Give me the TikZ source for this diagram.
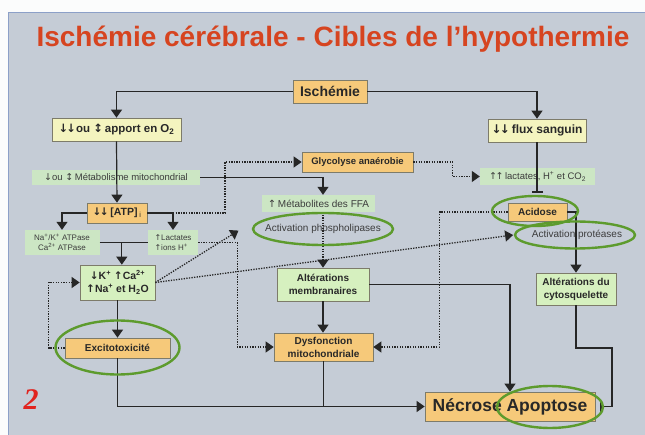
\documentclass[tikz,border=0pt]{standalone}
\usepackage{fontspec}
\setmainfont{Liberation Sans}
\newfontfamily\arw{DejaVu Sans}
\newfontfamily\serifnum{Liberation Serif}
\usetikzlibrary{arrows.meta,shapes.geometric,calc}

\definecolor{slidebg}{RGB}{197,204,214}
\definecolor{slideedge}{RGB}{140,160,200}
\definecolor{orangebox}{RGB}{246,201,122}
\definecolor{yellowbox}{RGB}{244,244,191}
\definecolor{greenbox}{RGB}{214,240,191}
\definecolor{palegreen}{RGB}{204,230,196}
\definecolor{boxline}{RGB}{125,123,106}
\definecolor{ringgreen}{RGB}{93,155,45}
\definecolor{linec}{RGB}{38,38,38}
\definecolor{txt}{RGB}{40,40,40}
\definecolor{txtpale}{RGB}{60,60,60}
\definecolor{titlered}{RGB}{214,68,32}
\definecolor{numred}{RGB}{225,35,30}

\newcommand{\myD}{{\arw ↓}}
\newcommand{\myU}{{\arw ↑}}
\newcommand{\myDD}{{\arw ↓\kern-.15em↓}}
\newcommand{\myUU}{{\arw ↑\kern-.15em↑}}
\newcommand{\myUD}{{\arw ↕}}

\begin{document}
\begin{tikzpicture}[x=1pt,y=-1pt,
  sbox/.style={draw=boxline, line width=0.7pt, inner sep=0pt, align=center, text=txt,
    font=\bfseries\fontsize{10}{13}\selectfont},
  obox/.style={sbox, fill=orangebox},
  ybox/.style={sbox, fill=yellowbox},
  gbox/.style={sbox, fill=greenbox},
  paletext/.style={fill=palegreen, inner sep=0pt, align=center, text=txtpale,
    font=\fontsize{9.5}{11}\selectfont},
  ringtext/.style={shape=ellipse, inner sep=0pt, text=txtpale, font=\fontsize{10}{12}\selectfont},
  greenring/.style={draw=ringgreen, line width=2.4pt},
  ln/.style={draw=linec, line width=1.2pt},
  dt/.style={draw=linec, line width=1.3pt, dash pattern=on 1.3pt off 1.3pt},
  harrow/.style={-{Triangle[width=11pt,length=8pt]}},
  tee/.style={-{Bar[width=11pt,line width=1.2pt]}}
]
\useasboundingbox (0,0) rectangle (645,435);
\fill[white!94!slidebg] (0,0) rectangle (645,435);
\fill[slidebg] (8,12) rectangle (645,435);
\draw[slideedge, line width=0.8pt] (8,435) -- (8,12) -- (645,12);

% title and number
\node[anchor=base, text=titlered, font=\bfseries\fontsize{28}{30}\selectfont] (title) at (333,47)
  {Ischémie cérébrale - Cibles de l’hypothermie};
\node[text=numred, font=\serifnum\bfseries\itshape\fontsize{30}{32}\selectfont] (num) at (31,400) {2};

% nodes
\node[obox, minimum width=74pt, minimum height=23pt, font=\bfseries\fontsize{14}{16}\selectfont] (isch) at (330,91.5) {Ischémie};
\node[ybox, minimum width=129pt, minimum height=23pt, font=\bfseries\fontsize{11.5}{13}\selectfont] (apport) at (116.5,129.5)
  {\myDD ou \myUD\,apport en O\textsubscript{2}};
\node[ybox, minimum width=98pt, minimum height=23pt, font=\bfseries\fontsize{12}{14}\selectfont] (flux) at (537,130.5)
  {\myDD\,flux sanguin};
\node[paletext, minimum width=168pt, minimum height=15pt] (metab) at (116,177.5)
  {\myD ou \myUD\,Métabolisme mitochondrial};
\node[obox, minimum width=60pt, minimum height=20pt, font=\bfseries\fontsize{10.5}{12}\selectfont] (atp) at (117,213)
  {\myDD\,[ATP]\,\textsubscript{\mdseries i}};
\node[paletext, minimum width=75pt, minimum height=25pt, font=\fontsize{8}{10}\selectfont] (nak) at (62,242.5)
  {Na\textsuperscript{+}/K\textsuperscript{+} ATPase\\Ca\textsuperscript{2+} ATPase};
\node[paletext, minimum width=50pt, minimum height=25pt, align=left, font=\fontsize{8}{10}\selectfont] (lact) at (173,242.5)
  {\myU Lactates\\\myU ions H\textsuperscript{+}};
\node[gbox, minimum width=75pt, minimum height=35pt, font=\bfseries\fontsize{10.5}{13}\selectfont] (kbox) at (117.5,282.5)
  {\myD K\textsuperscript{+} \myU Ca\textsuperscript{2+}\\\myU Na\textsuperscript{+} et H\textsubscript{2}O};
\node[obox, minimum width=105pt, minimum height=20pt] (excito) at (117.5,348) {Excitotoxicité};
\node[obox, minimum width=111pt, minimum height=20pt, font=\bfseries\fontsize{9.5}{11}\selectfont] (glyco) at (357.5,162)
  {Glycolyse anaérobie};
\node[paletext, minimum width=115pt, minimum height=17pt] (lacth) at (537.5,176.5)
  {\myUU\,lactates, H\textsuperscript{+} et CO\textsubscript{2}};
\node[paletext, minimum width=113pt, minimum height=17pt, font=\fontsize{10}{12}\selectfont] (ffa) at (318.5,203.5)
  {\myU\,Métabolites des FFA};
\node[ringtext, minimum width=140pt, minimum height=32pt] (phospho) at (323,229) {Activation phospholipases};
\node[ringtext, minimum width=120pt, minimum height=27pt] (prot) at (577,235) {Activation protéases};
\node[gbox, minimum width=92pt, minimum height=33pt] (alt) at (323,284.5) {Altérations\\membranaires};
\node[obox, minimum width=99pt, minimum height=28pt] (dysf) at (323.5,347) {Dysfonction\\mitochondriale};
\node[obox, minimum width=59pt, minimum height=18pt] (acid) at (537.5,212) {Acidose};
\node[gbox, minimum width=80pt, minimum height=32pt] (cyto) at (576,289) {Altérations du\\cytosquelette};
\node[obox, minimum width=170pt, minimum height=29pt, font=\bfseries\fontsize{17.5}{19}\selectfont] (necr) at (510,406.5)
  {Nécrose Apoptose};

% solid connectors
\draw[ln, harrow] (isch.west) -| (apport.north);
\draw[ln, harrow] (isch.east) -| (flux.north);
\draw[ln, harrow] (apport.south) -- (atp.north);
\draw[ln, harrow] (metab.east) -| (alt.north |- ffa.north);
\draw[ln, harrow] (atp.west) -| (nak.north);
\draw[ln, harrow] (atp.east) -| (lact.north);
\draw[ln] (nak.east) -- (lact.west);
\coordinate (jn) at ($(nak.east)!0.46!(lact.west)$);
\draw[ln, harrow] (jn) -- (jn |- kbox.north);
\draw[ln, harrow] (kbox.south) -- (excito.north);
\draw[ln, harrow] (excito.south) |- (necr.west);
\draw[ln] (dysf.south) -- (dysf.south |- necr.west);
\draw[ln, harrow] (alt.south) -- (alt.south |- dysf.north);
\draw[ln, harrow] (alt.east) -| (necr.north);
\draw[ln, tee, shorten >=10pt] (flux.south) -- (flux.south |- acid.north);
\draw[ln, harrow] (acid.east) -| (cyto.north);
\coordinate (cb) at (612,348);
\draw[ln, tee, shorten >=5pt] (cyto.south) |- (cb) |- (necr.east);

% dotted connectors
\draw[dt, harrow] (lact.north |- atp.east) -- ++(52,0) |- (glyco.west);
\draw[dt, harrow] (glyco.east) -- ++(39,0) |- (lacth.west);
\draw[dt, harrow] (lact.east) -- ++(39,0) |- (dysf.west);
\draw[dt, harrow, shorten >=3pt] (kbox.east) -- (phospho.west);
\draw[dt, harrow] (kbox.east) -- (prot.west);
\draw[dt, harrow] (alt.north |- ffa.south) -- (alt.north);
\draw[dt, harrow] (acid.west) -- ++(-68,0) |- (dysf.east);
\draw[dt, harrow] (excito.west) -- ++(-16,0) |- (kbox.west);

% green rings
\draw[greenring] (phospho.center) ellipse [x radius=70pt, y radius=16pt];
\draw[greenring] (prot.center) ++(-2,0) ellipse [x radius=60pt, y radius=13.5pt];
\draw[greenring] (acid.center) ++(-2.5,-1) ellipse [x radius=43pt, y radius=15pt];
\draw[greenring] (excito.center) ++(0,-0.5) ellipse [x radius=62pt, y radius=27pt];
\draw[greenring] (necr.center) ++(40,0.5) ellipse [x radius=53pt, y radius=21pt];
\end{tikzpicture}
\end{document}
